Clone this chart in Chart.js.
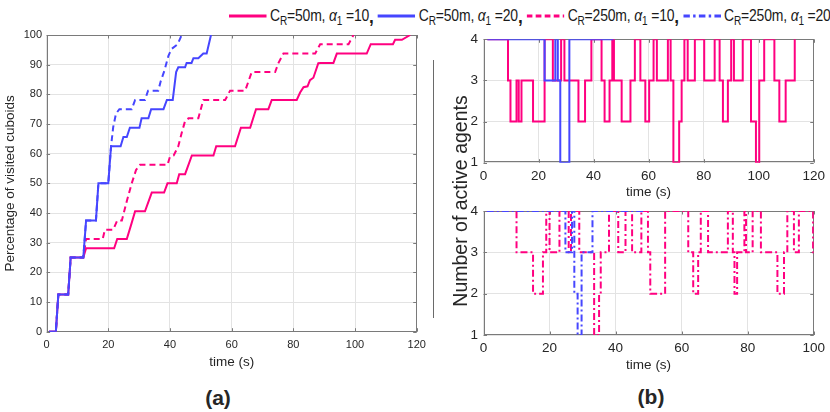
<!DOCTYPE html>
<html><head><meta charset="utf-8">
<script src="https://cdn.jsdelivr.net/npm/chart.js@4.4.0/dist/chart.umd.min.js"></script>
<style>
body{margin:0;width:830px;height:412px;background:#fff;position:relative;overflow:hidden;font-family:"Liberation Sans",Arial,sans-serif;color:#262626;}
canvas{position:absolute;}
#legend{position:absolute;left:229px;top:2px;height:28px;display:flex;align-items:center;font-size:17px;color:#1a1a1a;white-space:nowrap;letter-spacing:-0.2px;transform:scaleX(0.82);transform-origin:0 50%;}
.item{display:flex;align-items:center;}
.item svg{margin-right:4px;}
.item b{font-size:21px;margin-right:5px;}
sub{font-size:0.72em;position:relative;top:0.35em;vertical-align:baseline;line-height:0;}
.lab{position:absolute;font-weight:bold;font-size:21px;transform:translate(-50%,-50%);}
#ylabB{position:absolute;left:460px;top:201px;font-size:19.5px;white-space:nowrap;transform:translate(-50%,-50%) rotate(-90deg);}
#sep{position:absolute;left:433px;top:60px;width:1px;height:258px;background:#6a6a6a;}
</style></head>
<body>
<div id="legend">
 <div class="item"><svg width="46" height="8"><line x1="0" y1="4" x2="46" y2="4" stroke="#ff0080" stroke-width="3"/></svg><span>C<sub>R</sub>=50m, <i>α</i><sub>1</sub> =10</span><b>,</b></div>
 <div class="item"><svg width="46" height="8"><line x1="0" y1="4" x2="46" y2="4" stroke="#4646ff" stroke-width="3"/></svg><span>C<sub>R</sub>=50m, <i>α</i><sub>1</sub> =20</span><b>,</b></div>
 <div class="item"><svg width="46" height="8"><line x1="0" y1="4" x2="46" y2="4" stroke="#ff0080" stroke-width="3" stroke-dasharray="7,4"/></svg><span>C<sub>R</sub>=250m, <i>α</i><sub>1</sub> =10</span><b>,</b></div>
 <div class="item"><svg width="46" height="8"><line x1="0" y1="4" x2="46" y2="4" stroke="#4646ff" stroke-width="3" stroke-dasharray="8,4,3,4"/></svg><span>C<sub>R</sub>=250m, <i>α</i><sub>1</sub> =20</span></div>
</div>
<canvas id="ca" width="433" height="355" style="left:0;top:20px"></canvas>
<canvas id="cb1" width="397" height="185" style="left:433px;top:20px"></canvas>
<canvas id="cb2" width="397" height="180" style="left:433px;top:195px"></canvas>
<div id="sep"></div>
<div id="ylabB">Number of active agents</div>
<div class="lab" style="left:218px;top:398px">(a)</div>
<div class="lab" style="left:651px;top:397px">(b)</div>
<script>
// ---- Panel (a): percentage of visited cuboids ----
const tA_50_10 = [0.8,3.0,3.8,7.0,7.8,11.9,12.8,21.9,22.9,26.0,27.4,28.7,31.9,34.1,38.1,39.2,42.2,43.0,44.9,47.1,54.1,55.0,61.1,63.0,66.0,67.9,71.9,73.0,81.1,82.2,83.3,84.6,85.4,86.5,88.1,88.9,93.0,94.1,103.8,105.1,112.3,113.0,115.2,117.9];
const pA_50_10 = [0,0,12.5,12.5,25,25,28.1,28.1,31.25,31.25,36,40.6,40.6,46.9,46.9,50,50,53.1,53.1,59.4,59.4,62.5,62.5,68.75,68.75,75,75,78.1,78.1,80.6,82.4,82.7,84.8,85.6,90.5,90.6,90.6,93.75,93.75,96.9,96.9,98.4,98.4,100];
const tA_50_20 = [0.8,3.0,3.8,7.0,7.8,11.9,12.8,16.0,16.8,20.0,20.9,24.0,24.9,26.0,27.0,30.1,30.8,33.0,33.9,37.9,39.0,40.9,42.0,42.7,44.9,45.4,47.0,47.6,49.2,50.8,51.9,53.3];
const pA_50_20 = [0,0,12.5,12.5,25,25,37.5,37.5,50,50,62.5,62.5,65.6,65.6,68.75,68.75,71.9,71.9,75,75,78.1,78.1,87.5,89.1,89.1,90.6,90.6,92.2,92.2,93.75,93.75,100];
const tA_250_10 = [0.8,3.0,3.8,7.0,7.8,11.9,12.8,18.2,18.9,21.6,22.9,24.4,26.0,27.6,29.0,30.3,39.2,40.0,41.2,42.7,43.8,44.9,46.0,49.2,50.8,57.9,59.5,64.4,66.5,74.1,75.2,76.8,87.1,88.7,97.9,99.5];
const pA_250_10 = [0,0,12.5,12.5,25,25,31.25,31.25,34.4,34.4,37.5,37.5,44,50,54.5,56.25,56.25,59,59.4,62.5,67,71,71.9,71.9,78.1,78.1,81.25,81.25,87.5,87.5,90.6,93.75,93.75,96.9,96.9,100];
const tA_250_20 = [0.8,3.0,3.8,7.0,7.8,11.9,12.8,16.0,16.8,20.0,20.9,21.6,22.5,23.6,27.6,28.7,31.9,32.9,36.2,37.0,38.2,39.5,40.5,42.5,43.8];
const pA_250_20 = [0,0,12.5,12.5,25,25,37.5,37.5,50,50,62.5,69,73.5,75,75,78.1,78.1,81.25,81.25,84.4,88,93,95.3,96.9,100];

// ---- Panel (b) top: number of active agents, C_R = 50 m ----
const tB1_50_10 = [1.4,8.9,9.8,12.0,12.8,13.8,18.0,22.2,25.2,28.2,29.4,34.5,36.9,39.2,42.9,44.0,45.8,46.8,47.4,50.2,53.4,55.0,57.0,58.8,60.2,61.8,63.0,67.0,68.0,69.0,71.1,72.0,73.0,74.2,76.8,80.2,84.0,85.8,87.0,88.8,90.0,91.0,94.2,97.2,99.0,100.2,102.0,105.7,107.5,109.8,113.1,113.4];
const nB1_50_10 = [4,3,2,3,2,3,2,4,3,4,3,2,3,4,3,2,3,4,3,2,3,4,3,2,3,4,3,4,3,1,2,3,4,3,4,3,4,3,2,3,4,3,4,2,1,3,4,3,2,3,4,4];
const tB1_50_20 = [1.4,22.2,26.1,27.0,27.9,31.2,47.2];
const nB1_50_20 = [4,3,4,3,1,4,4];

// ---- Panel (b) bottom: number of active agents, C_R = 250 m ----
const tB2_250_10 = [1.0,10.0,15.0,18.0,19.0,20.0,23.0,25.8,26.5,29.0,33.5,35.0,35.5,38.0,40.8,43.0,45.0,47.8,49.8,50.5,55.0,62.0,63.5,65.0,65.8,68.0,74.0,75.5,76.0,76.8,79.0,79.5,81.5,84.0,89.0,91.0,92.0,94.0,95.5,99.8,100];
const nB2_250_10 = [4,3,2,3,4,3,4,3,4,3,1,2,3,4,3,4,3,4,3,2,4,3,2,3,4,3,4,3,2,3,4,3,4,3,2,3,4,3,4,3,3];
const tB2_250_20 = [1.0,24.8,26.8,27.5,28.5,29.7,33.0,49.0];
const nB2_250_20 = [4,3,4,2,1,3,4,4];

const PINK = '#ff0080', BLUE = '#4646ff';
const TXT = '#262626', GRID = '#e3e3e3', AXIS = '#7a7a7a';
Chart.defaults.font.family = "'Liberation Sans', Arial, sans-serif";
Chart.defaults.color = TXT;

const pts = (t, v) => t.map((x, i) => ({x, y: v[i]}));

const boxPlugin = {
  id: 'boxTicks',
  beforeDatasetsDraw(chart) {
    const {ctx, chartArea: a, scales: {x, y}} = chart;
    ctx.save();
    ctx.strokeStyle = AXIS; ctx.lineWidth = 1;
    ctx.strokeRect(Math.round(a.left) + 0.5, Math.round(a.top) + 0.5, Math.round(a.right - a.left) - 1, Math.round(a.bottom - a.top) - 1);
    ctx.beginPath();
    const L = 3.5;
    x.ticks.forEach(tk => {
      const px = Math.round(x.getPixelForValue(tk.value)) + 0.5;
      ctx.moveTo(px, a.bottom); ctx.lineTo(px, a.bottom - L);
      ctx.moveTo(px, a.top); ctx.lineTo(px, a.top + L);
    });
    y.ticks.forEach(tk => {
      const py = Math.round(y.getPixelForValue(tk.value)) + 0.5;
      ctx.moveTo(a.left, py); ctx.lineTo(a.left + L, py);
      ctx.moveTo(a.right, py); ctx.lineTo(a.right - L, py);
    });
    ctx.stroke();
    ctx.restore();
  }
};

function lineDs(data, color, dash, stepped) {
  return {data, borderColor: color, backgroundColor: color, borderWidth: 2, borderDash: dash || [],
          pointRadius: 0, tension: 0, fill: false, stepped: stepped || false};
}

function scales(o) {
  return {
    x: {type: 'linear', min: o.xmin, max: o.xmax,
        ticks: {stepSize: 20, font: {size: o.tickSize}, color: TXT, padding: o.xpad, maxRotation: 0, autoSkip: false},
        grid: {color: GRID, drawTicks: false}, border: {display: false},
        title: {display: true, text: 'time (s)', font: {size: 13.5}, color: TXT, padding: {top: 0, bottom: o.titlePad}},
        afterFit(s) { s.height = o.xh; }},
    y: {type: 'linear', min: o.ymin, max: o.ymax,
        ticks: {stepSize: o.ystep, font: {size: o.tickSize}, color: TXT, padding: o.ypad, autoSkip: false},
        grid: {color: GRID, drawTicks: false}, border: {display: false},
        title: {display: !!o.ytitle, text: o.ytitle || '', font: {size: 13.5}, color: TXT, padding: {top: 2, bottom: 0}},
        afterFit(s) { s.width = o.yw; }}
  };
}

const common = {responsive: false, animation: false, devicePixelRatio: 1,
  plugins: {legend: {display: false}, tooltip: {enabled: false}}};

new Chart(document.getElementById('ca'), {
  type: 'line',
  data: {datasets: [
    lineDs(pts(tA_50_20, pA_50_20), BLUE),
    lineDs(pts(tA_250_20, pA_250_20), BLUE, [6, 4]),
    lineDs(pts(tA_50_10, pA_50_10), PINK),
    lineDs(pts(tA_250_10, pA_250_10), PINK, [6, 4])
  ]},
  options: Object.assign({}, common, {
    layout: {padding: {left: 0, top: 15, right: 16.3, bottom: 0}},
    scales: scales({xmin: 0, xmax: 120, ymin: 0, ymax: 100, ystep: 10, tickSize: 11, xpad: 7, ypad: 4.5,
                    titlePad: 4.9, xh: 43.3, yw: 46.6, ytitle: 'Percentage of visited cuboids'})
  }),
  plugins: [boxPlugin]
});

new Chart(document.getElementById('cb1'), {
  type: 'line',
  data: {datasets: [
    lineDs(pts(tB1_50_20, nB1_50_20), BLUE, null, true),
    lineDs(pts(tB1_50_10, nB1_50_10), PINK, null, true)
  ]},
  options: Object.assign({}, common, {
    layout: {padding: {left: 0, top: 19.3, right: 13.3, bottom: 0}},
    scales: scales({xmin: 0, xmax: 120, ymin: 1, ymax: 4, ystep: 1, tickSize: 13.5, xpad: 5, ypad: 5.5,
                    titlePad: 4.2, xh: 42.3, yw: 50.5})
  }),
  plugins: [boxPlugin]
});

new Chart(document.getElementById('cb2'), {
  type: 'line',
  data: {datasets: [
    lineDs(pts(tB2_250_20, nB2_250_20), BLUE, [7, 3, 2, 3], true),
    lineDs(pts(tB2_250_10, nB2_250_10), PINK, [7, 3, 2, 3], true)
  ]},
  options: Object.assign({}, common, {
    layout: {padding: {left: 0, top: 16, right: 13.3, bottom: 0}},
    scales: scales({xmin: 0, xmax: 100, ymin: 1, ymax: 4, ystep: 1, tickSize: 13.5, xpad: 5, ypad: 5.5,
                    titlePad: 1.9, xh: 40, yw: 50.5})
  }),
  plugins: [boxPlugin]
});
</script>
</body></html>
